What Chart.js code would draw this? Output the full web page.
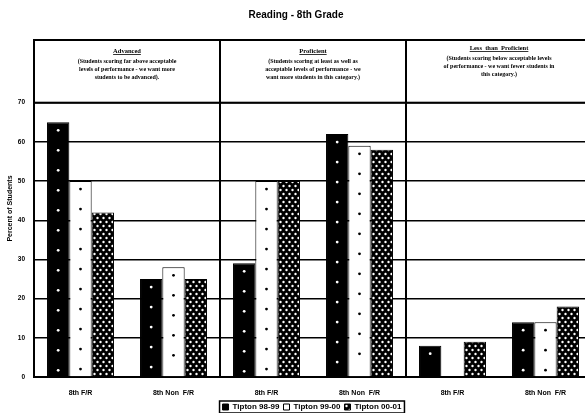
<!DOCTYPE html>
<html>
<head>
<meta charset="utf-8">
<script src="https://cdn.jsdelivr.net/npm/chart.js@4.4.0/dist/chart.umd.min.js"></script>
<style>
  html, body { margin: 0; padding: 0; overflow: hidden; background: #fff; }
  #wrap { width: 592px; height: 413px; }
</style>
</head>
<body>
<div id="wrap"><canvas id="chart" width="592" height="413"></canvas></div>
<script>
// chart values
let categories = ['8th F/R', '8th Non  F/R', '8th F/R', '8th Non  F/R', '8th F/R', '8th Non  F/R'];
let tipton9899 = [65, 25, 29, 62, 8, 14];
let tipton9900 = [50, 28, 50, 59, 0, 14];
let tipton0001 = [42, 25, 50, 58, 9, 18];
let yTicks = [0, 10, 20, 30, 40, 50, 60, 70];

let sectionTitles = ['Advanced', 'Proficient', 'Less  than  Proficient'];
let sectionNotes = [
  ['(Students scoring far above acceptable', 'levels of performance - we want more', 'students to be advanced).'],
  ['(Students scoring at least as well as', 'acceptable levels of performance - we', 'want more students in this category.)'],
  ['(Students scoring below acceptable levels', 'of performance - we want fewer students in', 'this category.)']
];

let canvas = document.getElementById('chart');
let ctx = canvas.getContext('2d');

// dense white dots on black for the 00-01 series
function densePattern() {
  let c = document.createElement('canvas');
  c.width = 6; c.height = 8;
  let g = c.getContext('2d');
  g.fillStyle = '#000';
  g.fillRect(0, 0, 6, 8);
  g.fillStyle = '#fff';
  [[1.5, 2], [4.5, 6]].forEach(function(p) {
    g.beginPath();
    g.arc(p[0], p[1], 1.2, 0, Math.PI * 2);
    g.fill();
  });
  return ctx.createPattern(c, 'repeat');
}

let sectionsPlugin = {
  id: 'sections',
  afterLayout: function(chart) {
    // the legend sits a little right of centre on the page
    let dx = 16;
    let lg = chart.legend;
    lg.left += dx;
    lg.right += dx;
    (lg.legendHitBoxes || []).forEach(function(b) { b.left += dx; });
  },
  afterDatasetsDraw: function(chart) {
    let g = chart.ctx;
    let area = chart.chartArea;
    let yScale = chart.scales.y;
    let y70 = yScale.getPixelForValue(70);
    let secW = area.width / 3;

    // sparse dots inside the first two series
    [[0, '#fff'], [1, '#000']].forEach(function(s) {
      chart.getDatasetMeta(s[0]).data.forEach(function(bar) {
        g.fillStyle = s[1];
        for (let y = bar.y + 8; y < bar.base - 3; y += 20) {
          g.beginPath();
          g.arc(bar.x, y, 1.4, 0, Math.PI * 2);
          g.fill();
        }
      });
    });

    g.save();
    g.strokeStyle = '#000';
    g.lineWidth = 2;
    // section separators
    for (let i = 1; i < 3; i++) {
      let x = Math.round(area.left + secW * i);
      g.beginPath();
      g.moveTo(x, area.top);
      g.lineTo(x, area.bottom);
      g.stroke();
    }
    // header boxes
    let titleY = [11, 11, 8];
    for (let i = 0; i < 3; i++) {
      let x0 = area.left + secW * i;
      g.fillStyle = '#fff';
      g.fillRect(x0 + 1, area.top + 1, secW - 2, y70 - area.top - 2);
      g.strokeRect(x0, area.top, secW, y70 - area.top);
      let cx = x0 + secW / 2;
      let ty = area.top + titleY[i];
      g.fillStyle = '#000';
      g.textAlign = 'center';
      g.textBaseline = 'middle';
      g.font = 'bold 6.5px "Liberation Serif"';
      g.fillText(sectionTitles[i], cx, ty);
      let tw = g.measureText(sectionTitles[i]).width;
      g.lineWidth = 0.8;
      g.beginPath();
      g.moveTo(cx - tw / 2, ty + 3.5);
      g.lineTo(cx + tw / 2, ty + 3.5);
      g.stroke();
      g.lineWidth = 2;
      g.font = 'bold 6px "Liberation Serif"';
      sectionNotes[i].forEach(function(line, k) {
        g.fillText(line, cx, ty + 10.5 + k * 7.8);
      });
    }
    g.restore();
  },
  afterDraw: function(chart) {
    let boxes = chart.legend.legendHitBoxes;
    if (!boxes || !boxes.length) return;
    let g = chart.ctx;
    let left = Math.min.apply(null, boxes.map(function(b) { return b.left; }));
    let right = Math.max.apply(null, boxes.map(function(b) { return b.left + b.width; }));
    let top = boxes[0].top;
    let h = boxes[0].height;
    g.save();
    g.strokeStyle = '#000';
    g.lineWidth = 1.5;
    g.strokeRect(left - 3, top - 2, right - left + 6, h + 4);
    g.restore();
  }
};

new Chart(ctx, {
  type: 'bar',
  data: {
    labels: categories,
    datasets: [
      { label: 'Tipton 98-99', data: tipton9899, backgroundColor: '#000' },
      { label: 'Tipton 99-00', data: tipton9900, backgroundColor: '#fff' },
      { label: 'Tipton 00-01', data: tipton0001, backgroundColor: densePattern() }
    ]
  },
  options: {
    responsive: false,
    animation: false,
    datasets: {
      bar: {
        categoryPercentage: 0.72,
        barPercentage: 1.0,
        borderColor: '#000',
        borderWidth: 1
      }
    },
    layout: { padding: { left: 0, right: 0, top: 0, bottom: -8 } },
    plugins: {
      title: {
        display: true,
        text: 'Reading - 8th Grade',
        color: '#000',
        font: { family: '"Liberation Sans"', size: 10, weight: 'bold' },
        padding: { top: 9, bottom: 19 }
      },
      legend: {
        position: 'bottom',
        labels: {
          color: '#000',
          boxWidth: 6,
          boxHeight: 6,
          padding: 4,
          font: { family: '"Liberation Sans"', size: 8, weight: 'bold' }
        }
      },
      tooltip: { enabled: false }
    },
    scales: {
      x: {
        grid: { display: false },
        border: { display: true, color: '#000', width: 2 },
        ticks: {
          color: '#000',
          autoSkip: false,
          maxRotation: 0,
          padding: 4,
          font: { family: '"Liberation Sans"', size: 7, weight: 'bold' }
        },
        afterFit: function(scale) { scale.height = 22; }
      },
      y: {
        min: 0,
        max: 86,
        afterBuildTicks: function(scale) {
          scale.ticks = yTicks.map(function(v) { return { value: v }; });
        },
        grid: { color: '#000', lineWidth: 1.5, drawTicks: false },
        border: { display: true, color: '#000', width: 2 },
        ticks: {
          color: '#000',
          padding: 9,
          font: { family: '"Liberation Sans"', size: 6.5, weight: 'bold' }
        },
        title: {
          display: true,
          text: 'Percent of Students',
          color: '#000',
          padding: { top: 6, bottom: 0 },
          font: { family: '"Liberation Sans"', size: 7, weight: 'bold' }
        },
        afterFit: function(scale) { scale.width = 34; }
      }
    }
  },
  plugins: [sectionsPlugin]
});
</script>
</body>
</html>
